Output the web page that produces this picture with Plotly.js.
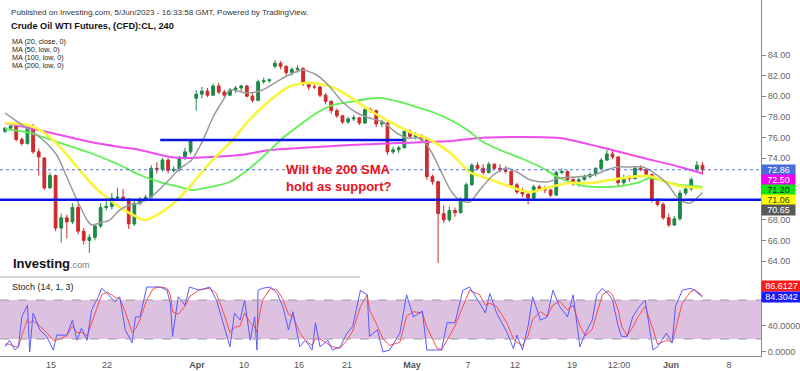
<!DOCTYPE html>
<html>
<head>
<meta charset="utf-8">
<script src="https://cdn.plot.ly/plotly-3.0.1.min.js"></script>
<style>html,body{margin:0;padding:0;background:#fff;}#chart{width:800px;height:371px;}</style>
</head>
<body>
<div id="chart"></div>
<script>
// ---------- DATA (time unit: trading days from start of chart; candles every half day) ----------
const candleStep = 0.5;
const candleOpen = [76.6,76.9,77.1,75.8,75.4,76.9,74.6,74.0,71.1,72.3,67.2,68.2,67.8,69.2,66.9,66.0,66.3,67.4,69.2,69.3,70.1,70.2,70.0,67.6,69.6,70.0,70.2,73.0,72.9,73.8,72.8,72.9,74.0,74.6,79.8,80.2,80.5,80.1,81.0,80.4,80.1,80.6,80.8,81.0,80.0,79.6,81.4,81.5,82.9,83.2,82.9,82.3,82.6,82.7,81.2,80.9,80.9,80.1,79.5,78.6,78.1,77.5,77.8,77.9,77.4,78.7,78.6,77.3,77.4,74.6,74.8,75.0,76.6,76.1,76.2,75.8,72.2,71.7,68.6,68.0,68.9,68.7,70.0,71.4,73.3,73.0,72.6,73.4,73.0,72.9,72.7,71.4,70.7,70.5,70.1,71.2,71.0,70.9,70.4,72.6,72.7,71.9,71.5,71.9,72.2,72.4,73.0,73.8,74.4,74.1,71.6,72.1,72.0,73.0,72.9,72.4,69.9,69.5,68.2,67.5,68.1,70.6,71.0,72.9,73.3];
const candleHigh = [77.0,77.4,77.2,76.0,77.1,77.3,74.9,74.1,72.6,72.4,68.6,68.5,69.6,69.5,67.2,66.6,67.6,69.6,69.8,70.6,71.1,71.0,70.1,69.9,70.2,70.4,73.3,73.6,74.0,74.0,73.2,74.2,75.0,75.8,80.6,80.9,80.8,81.2,81.3,80.6,80.8,81.0,81.1,81.1,80.3,81.6,81.8,81.7,83.5,83.4,83.0,82.8,83.0,82.8,81.4,81.2,81.0,80.3,79.6,78.8,78.2,78.0,78.2,78.0,78.9,78.9,78.7,77.7,77.5,75.1,75.2,76.8,76.8,76.5,76.3,75.9,72.4,71.8,69.4,69.3,69.2,70.2,71.6,73.5,73.6,73.4,73.6,73.5,73.4,73.2,72.8,71.6,71.1,70.7,71.4,71.4,71.3,71.0,72.8,73.0,72.8,72.2,72.1,72.4,72.6,73.1,74.0,74.8,74.7,74.2,72.4,72.3,73.2,73.3,73.0,72.5,70.1,69.7,68.6,68.4,70.9,71.3,72.1,73.7,73.6];
const candleLow = [76.4,76.7,75.6,75.2,75.3,74.4,72.3,70.9,71.0,66.9,65.8,66.2,67.6,66.6,65.6,64.8,66.0,67.2,68.9,69.0,69.8,69.8,67.1,67.4,69.4,69.8,70.1,72.5,72.7,72.5,72.6,72.7,73.8,74.4,78.6,79.8,79.9,80.0,80.2,79.9,80.0,80.3,80.5,79.9,79.4,79.5,81.2,81.3,82.7,82.6,82.0,82.0,82.3,81.0,80.6,80.7,79.9,79.2,78.3,77.9,77.3,77.3,77.6,77.2,77.3,78.4,77.0,77.0,74.3,74.4,74.5,74.9,75.9,75.8,75.6,71.9,71.4,63.8,67.7,67.8,68.3,68.6,69.9,71.3,72.8,72.4,72.5,72.8,72.6,72.5,71.2,70.5,70.2,69.5,70.0,70.9,70.6,70.2,70.3,72.4,71.7,71.3,71.2,71.8,72.0,72.2,72.9,73.7,73.9,71.3,71.4,71.7,71.9,72.7,72.2,69.7,69.3,68.0,67.3,67.4,67.9,70.4,70.8,72.6,72.4];
const candleClose = [76.9,77.1,75.8,75.4,76.9,74.6,74.1,71.1,72.3,67.2,68.2,67.8,69.2,66.9,66.0,66.3,67.4,69.2,69.3,70.1,70.2,70.0,67.6,69.6,70.0,70.2,73.0,72.9,73.8,72.8,72.9,74.0,74.6,75.7,80.2,80.5,80.1,81.0,80.4,80.1,80.6,80.8,81.0,80.0,79.6,81.4,81.5,81.6,83.2,82.9,82.3,82.6,82.7,81.2,80.9,80.9,80.1,79.5,78.6,78.1,77.5,77.8,77.9,77.4,78.7,78.6,77.3,77.4,74.6,74.8,75.0,76.6,76.1,76.2,75.8,72.2,71.7,68.6,68.0,68.9,68.7,70.0,71.4,73.3,73.0,72.6,73.4,73.0,72.9,72.7,71.4,70.7,70.5,70.1,71.2,71.0,70.9,70.4,72.6,72.7,71.9,71.5,71.9,72.2,72.4,73.0,73.8,74.4,74.1,71.6,72.1,72.0,73.0,72.9,72.4,69.9,69.5,68.2,67.5,68.1,70.6,71.0,71.9,73.3,72.86];

// Moving averages (day, price)
const ma20Days = [0,0.9,2.2,3.4,4.6,5.5,6.4,7.3,7.7,8.4,9.3,10.2,11.1,12.0,13.2,14.4,15.6,16.6,17.6,18.5,19.4,20.0,21.5,22.9,24.4,25.6,26.5,27.7,28.9,30.0,31.3,32.4,33.6,34.8,35.7,36.9,37.8,38.7,39.6,40.4,41.3,42.2,43.4,44.6,45.5,46.7,48.2,49.3,50.8,52.3,53.5,54.4,55.6,56.7,57.6,58.8,60.0,60.9,62.0];
const ma20Vals = [78.37,77.69,76.72,75.75,74.29,72.16,69.92,67.98,67.50,67.69,67.98,68.95,69.44,69.63,70.41,71.67,73.03,73.81,75.75,77.98,79.63,80.60,80.31,80.60,81.57,82.25,82.54,82.06,80.89,79.44,78.37,77.88,77.50,76.43,75.94,75.94,74.78,72.83,70.89,69.92,69.73,70.89,72.35,73.03,72.64,71.86,71.67,72.06,72.16,72.35,72.83,73.13,73.13,73.13,72.64,71.57,69.92,69.63,70.65];
const ma50Days = [0,2.0,3.4,4.9,6.4,7.8,9.1,10.2,11.4,12.4,13.8,15.3,16.7,18.2,20.3,21.8,23.6,25.2,26.7,28.0,29.3,30.7,32.4,34.2,36.0,37.8,39.6,41.3,42.5,44.0,45.8,46.7,48.4,50.2,52.0,53.8,55.6,57.3,58.8,60.0,62.0];
const ma50Vals = [77.40,77.20,76.52,75.07,73.13,71.38,70.12,69.24,68.47,67.98,68.66,69.92,71.57,73.51,75.84,77.79,79.63,80.89,81.28,81.18,80.80,79.92,78.66,77.50,76.52,75.75,74.49,72.64,72.16,71.57,70.89,70.70,71.18,71.57,71.57,71.86,72.16,72.25,71.67,71.28,71.06];
const ma100Days = [0,2.2,4.9,7.6,10.2,12.0,13.8,15.6,16.7,18.2,20.0,21.8,23.1,24.7,26.2,27.7,29.2,30.7,32.2,33.3,35.1,36.6,38.0,39.6,41.1,42.5,44.0,45.8,47.6,49.3,51.1,52.9,54.7,56.4,57.3,58.2,60.0,62.0];
const ma100Vals = [76.82,76.43,75.46,74.49,73.32,72.35,71.67,71.18,70.89,71.18,71.67,73.03,74.29,75.94,77.20,78.37,79.15,79.44,79.73,79.83,79.44,78.95,78.47,77.69,76.72,75.55,74.78,74.00,73.13,72.06,71.38,71.18,71.28,71.67,72.06,71.86,71.38,71.20];
const ma200Days = [0,2.2,4.9,7.6,10.2,12.0,14.7,16.4,18.2,20.9,23.6,26.2,30.7,35.1,39.6,42.2,45.8,49.3,52.9,56.4,60.0,62.0];
const ma200Vals = [77.40,76.91,76.23,75.55,75.07,74.78,74.10,74.00,74.10,74.29,74.78,74.97,75.26,75.46,75.65,75.94,76.04,75.94,75.07,74.10,73.13,72.50];

// Horizontal levels
const supportLevel = 69.95;
const resistanceLevel = 75.75;
const resistanceFrom = 13.8, resistanceTo = 35.4;
const lastPrice = 72.86;

// Stochastic (14,1,3)
const stochDays = [0,0.4,0.9,1.2,1.5,2.0,2.2,2.5,3.1,3.7,4.3,4.6,5.5,6.0,6.4,6.8,7.3,7.7,8.3,8.6,9.1,9.8,10.2,10.7,11.3,11.6,12.0,12.6,13.2,13.8,14.4,14.7,14.9,15.4,16.0,16.4,17.3,18.2,18.8,19.4,20.0,20.4,20.9,21.3,21.8,22.2,22.4,22.5,22.9,23.6,24.2,24.7,25.2,25.6,26.2,26.7,27.3,27.6,28.0,28.7,29.1,29.8,30.4,30.9,31.6,32.2,32.4,33.1,33.6,34.2,35.1,35.7,36.3,37.1,37.5,38.4,38.8,39.3,40.0,40.7,41.3,42.2,42.7,43.1,43.7,44.6,45.2,45.5,46.0,46.5,46.9,47.6,48.2,48.7,49.3,50.0,50.5,51.1,51.6,52.2,52.6,53.1,53.6,54.0,54.5,54.8,55.3,55.8,56.3,56.9,57.6,58.0,58.8,59.3,59.6,60.2,60.9,61.3,62.0];
const stochK = [8,18,3,8,54,72,0,60,34,24,3,26,26,49,18,37,18,65,85,98,90,77,85,34,14,54,54,100,100,100,95,75,24,85,72,100,95,100,80,45,8,60,49,80,18,54,3,95,98,100,90,70,34,62,8,18,3,45,8,18,3,8,29,39,95,88,24,34,0,3,29,88,54,63,3,3,3,45,45,95,100,75,60,90,60,31,5,26,3,40,85,49,54,95,70,54,88,8,29,49,88,98,90,80,40,24,24,54,68,80,3,8,29,14,70,95,98,95,84.3042];
const stochD = [12,12,8,8,25,50,45,48,40,30,18,18,25,40,30,30,25,45,72,88,92,84,82,62,30,35,50,80,98,100,98,88,62,58,70,85,96,98,90,62,30,38,40,60,45,38,30,45,80,98,95,82,58,55,30,18,10,20,20,12,8,6,18,32,70,88,65,40,20,10,15,55,62,60,38,6,3,18,40,70,95,88,72,75,70,45,20,15,10,25,50,62,55,72,78,65,72,40,25,35,60,88,94,88,65,40,25,38,55,70,35,12,18,15,35,75,92,96,86.6127];
const stochUpper = 80, stochLower = 20;

const dateTickDays = [4.09,9.07,17.07,21.24,26.13,30.4,36.18,41.16,45.33,50.4,54.58,59.2,64.36];
const dateTickText = ['15','22','<b>Apr</b>','10','16','21','<b>May</b>','7','12','19','12:00','<b>Jun</b>','8'];
const priceTicks = [64,66,68,70,72,74,76,78,80,82,84];
const stochTicks = [0,40];

const maLegend = ['MA (20, close, 0)','MA (50, low, 0)','MA (100, low, 0)','MA (200, low, 0)'];

// ---------- BUILD ----------
const FONT = 'Liberation Sans, Arial, sans-serif';
const W = 761, H = 356;            // plot area in px
const px = x => x / W, py = y => 1 - y / H;
const xMin = -0.44, xMax = 67.2;
const priceRange = [62.45, 89.34];
const stochRange = [-6.2, 115.4];
const split = (H - 277) / H;

const candleTimes = candleOpen.map((_, i) => i * candleStep);

const traces = [
  {type:'candlestick', x:candleTimes, open:candleOpen, high:candleHigh, low:candleLow, close:candleClose,
   xaxis:'x', yaxis:'y', whiskerwidth:0,
   increasing:{line:{color:'#1d8a47', width:1}, fillcolor:'#1d8a47'},
   decreasing:{line:{color:'#cf2a2a', width:1}, fillcolor:'#cf2a2a'},
   hoverinfo:'skip', showlegend:false},
  {type:'scatter', mode:'lines', x:ma200Days, y:ma200Vals, line:{color:'#ee4cee', width:2, shape:'spline', smoothing:0.7}, xaxis:'x', yaxis:'y', hoverinfo:'skip'},
  {type:'scatter', mode:'lines', x:ma100Days, y:ma100Vals, line:{color:'#5ef052', width:1.8, shape:'spline', smoothing:0.7}, xaxis:'x', yaxis:'y', hoverinfo:'skip'},
  {type:'scatter', mode:'lines', x:ma50Days, y:ma50Vals, line:{color:'#f9f53a', width:2.6, shape:'spline', smoothing:0.7}, xaxis:'x', yaxis:'y', hoverinfo:'skip'},
  {type:'scatter', mode:'lines', x:ma20Days, y:ma20Vals, line:{color:'#9a9a9a', width:1.5, shape:'spline', smoothing:0.7}, xaxis:'x', yaxis:'y', hoverinfo:'skip'},
  {type:'scatter', mode:'lines', x:stochDays, y:stochD, line:{color:'#ff4a4a', width:1}, xaxis:'x2', yaxis:'y2', hoverinfo:'skip'},
  {type:'scatter', mode:'lines', x:stochDays, y:stochK, line:{color:'#5a5aff', width:1}, xaxis:'x2', yaxis:'y2', hoverinfo:'skip'}
];

const shapes = [
  {type:'rect', xref:'x2', yref:'y2', x0:xMin, x1:xMax, y0:stochLower, y1:stochUpper, fillcolor:'#dcc1e0', line:{width:0}, layer:'below'},
  {type:'line', xref:'x2', yref:'y2', x0:xMin, x1:xMax, y0:stochUpper, y1:stochUpper, line:{color:'#a09aa4', width:1.2, dash:'dash'}},
  {type:'line', xref:'x2', yref:'y2', x0:xMin, x1:xMax, y0:stochLower, y1:stochLower, line:{color:'#a09aa4', width:1.2, dash:'dash'}},
  {type:'line', xref:'x', yref:'y', x0:xMin, x1:xMax, y0:lastPrice, y1:lastPrice, line:{color:'#5570e0', width:1, dash:'dot'}},
  {type:'line', xref:'x', yref:'y', x0:xMin, x1:xMax, y0:supportLevel, y1:supportLevel, line:{color:'#0a14e6', width:2.5}},
  {type:'line', xref:'x', yref:'y', x0:resistanceFrom, x1:resistanceTo, y0:resistanceLevel, y1:resistanceLevel, line:{color:'#0a14e6', width:2.5}},
  {type:'line', xref:'paper', yref:'paper', x0:0, x1:px(360), y0:split, y1:split, line:{color:'#aaaaaa', width:1}}
];

const annotations = [];
function txt(x, y, text, size, color, extra) {
  annotations.push(Object.assign({xref:'paper', yref:'paper', x:px(x), y:py(y), xanchor:'left', yanchor:'middle',
    text:text, showarrow:false, borderpad:0, font:{family:FONT, size:size, color:color}}, extra||{}));
}
txt(10, 12.5, 'Published on Investing.com, 5/Jun/2023 - 16:33:58 GMT, Powered by TradingView.', 8.1, '#333');
txt(10, 26, '<b>Crude Oil WTI Futures, (CFD):CL, 240</b>', 9.2, '#111');
maLegend.forEach((t, k) => txt(11, 41.5 + k * 8, t, 7.2, '#222'));
txt(11, 287, 'Stoch (14, 1, 3)', 9, '#222');
txt(12, 263, '<b>Investing</b><span style="font-size:9px;color:#777">.com</span>', 13, '#111');
txt(285, 170, '<b>Will the 200 SMA</b>', 13, '#e8121c');
txt(285, 186, '<b>hold as support?</b>', 13, '#e8121c');

// price tags on the right axis, stacked to avoid overlap
const tags = [
  {v:72.86, bg:'#4a6cdc', fc:'#fff'},
  {v:72.50, bg:'#f000f0', fc:'#fff'},
  {v:71.20, bg:'#12e612', fc:'#222'},
  {v:71.06, bg:'#ffff00', fc:'#333'},
  {v:70.65, bg:'#5a5a5a', fc:'#fff'}
];
const tagStep = 10 / (277 / (priceRange[1] - priceRange[0]));
let prev = Infinity;
tags.forEach(t => {
  const pos = Math.min(t.v, prev - tagStep); prev = pos;
  annotations.push({xref:'paper', yref:'y', x:1, y:pos, xanchor:'left', yanchor:'middle', showarrow:false,
    text:t.v.toFixed(2), bgcolor:t.bg, font:{family:FONT, size:9, color:t.fc}, width:32, height:9, borderpad:0.5});
});
const kLast = stochK[stochK.length-1], dLast = stochD[stochD.length-1];
const sStep = 11 / (79 / (stochRange[1] - stochRange[0]));
annotations.push({xref:'paper', yref:'y2', x:1, y:Math.max(dLast, kLast + sStep), xanchor:'left', yanchor:'middle', showarrow:false,
  text:dLast.toFixed(4), bgcolor:'#ff1a1a', font:{family:FONT, size:9, color:'#fff'}, width:38, height:9, borderpad:0.5});
annotations.push({xref:'paper', yref:'y2', x:1, y:kLast, xanchor:'left', yanchor:'middle', showarrow:false,
  text:kLast.toFixed(4), bgcolor:'#1a1aff', font:{family:FONT, size:9, color:'#fff'}, width:38, height:9, borderpad:0.5});

const layout = {
  width:800, height:371,
  margin:{l:0, r:800 - W, t:0, b:371 - H},
  paper_bgcolor:'#fff', plot_bgcolor:'#fff',
  showlegend:false, dragmode:false,
  font:{family:FONT, size:9, color:'#555'},
  xaxis:{domain:[0,1], range:[xMin, xMax], anchor:'y', showticklabels:false, showgrid:false, zeroline:false,
         showline:false, rangeslider:{visible:false}, fixedrange:true},
  xaxis2:{domain:[0,1], range:[xMin, xMax], anchor:'y2', matches:'x', showgrid:false, zeroline:false,
          showline:true, linecolor:'#8a8a8a', linewidth:1, ticks:'', tickmode:'array', tickvals:dateTickDays, ticktext:dateTickText,
          tickfont:{family:FONT, size:9, color:'#555'}, fixedrange:true},
  yaxis:{domain:[split, 1], range:priceRange, side:'right', anchor:'x', showgrid:false, zeroline:false,
         showline:true, linecolor:'#8a8a8a', linewidth:1, ticks:'outside', ticklen:4, tickcolor:'#8a8a8a',
         tickmode:'array', tickvals:priceTicks, ticktext:priceTicks.map(v => v.toFixed(2)),
         tickfont:{family:FONT, size:9, color:'#666'}, fixedrange:true},
  yaxis2:{domain:[0, split], range:stochRange, side:'right', anchor:'x2', showgrid:false, zeroline:false,
          showline:true, linecolor:'#8a8a8a', linewidth:1, ticks:'outside', ticklen:4, tickcolor:'#8a8a8a',
          tickmode:'array', tickvals:stochTicks, ticktext:stochTicks.map(v => v.toFixed(4)),
          tickfont:{family:FONT, size:9, color:'#666'}, fixedrange:true},
  shapes:shapes, annotations:annotations
};

Plotly.newPlot('chart', traces, layout, {staticPlot:true, displayModeBar:false});
</script>
</body>
</html>
